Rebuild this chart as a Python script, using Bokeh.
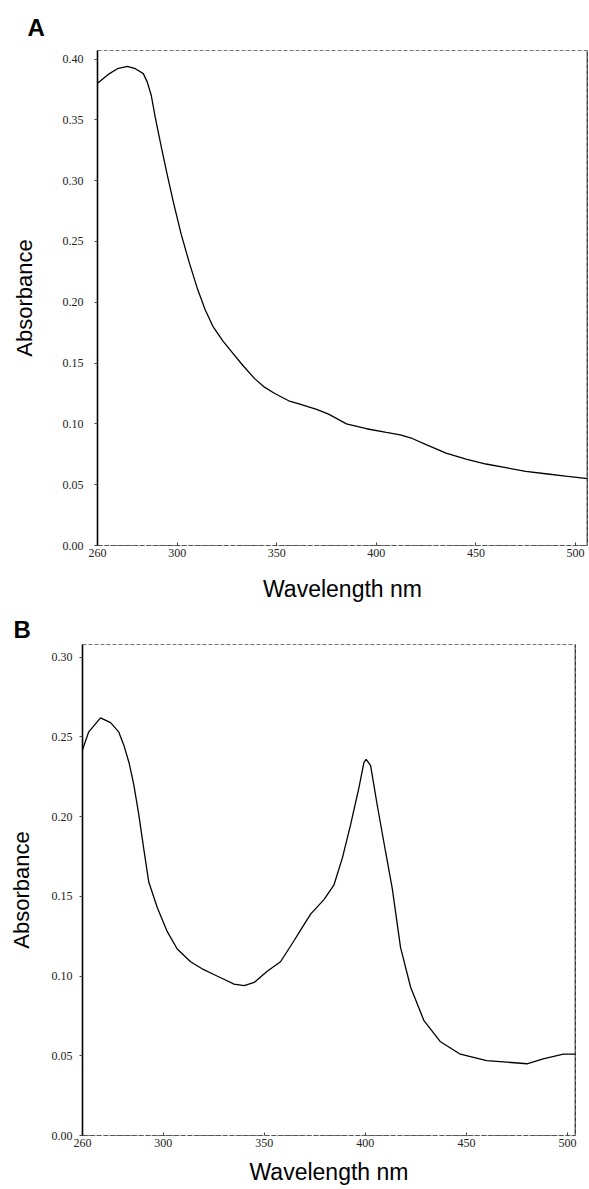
from bokeh.plotting import figure
from bokeh.models import Range1d, FixedTicker, Span, NumeralTickFormatter
from bokeh.embed import file_html
from bokeh.resources import INLINE

# ---- data ----
a_wavelength = [260, 266, 270, 275, 279, 283, 285, 287, 289, 292, 295, 298, 302, 306,
                310, 314, 318, 323, 328, 333, 339, 344, 349, 356, 362, 370, 376, 385,
                395, 405, 412, 418, 425, 435, 445, 455, 465, 475, 485, 495, 506]
a_absorbance = [0.380, 0.388, 0.392, 0.394, 0.392, 0.388, 0.381, 0.370, 0.352, 0.328,
                0.305, 0.283, 0.256, 0.233, 0.212, 0.194, 0.180, 0.168, 0.158, 0.148,
                0.137, 0.130, 0.125, 0.119, 0.116, 0.112, 0.108, 0.100, 0.096, 0.093,
                0.091, 0.088, 0.083, 0.076, 0.071, 0.067, 0.064, 0.061, 0.059, 0.057,
                0.055]

b_wavelength = [260, 263, 265.6, 268.9, 273.9, 278, 280.4, 283, 285.4, 287.9, 290.3,
                292.8, 297, 301.9, 306.9, 313.5, 320, 325, 330, 335, 340, 345, 351.4,
                358, 364.6, 368, 373, 379.5, 384.4, 388.6, 392.7, 396.8, 399.3, 400.4,
                402.6, 405.9, 410, 413.3, 417.4, 422.4, 429, 437, 447, 460, 470, 480,
                488, 498, 504]
b_absorbance = [0.242, 0.253, 0.257, 0.262, 0.259, 0.253, 0.245, 0.234, 0.220, 0.201,
                0.180, 0.159, 0.143, 0.128, 0.117, 0.109, 0.104, 0.101, 0.098, 0.095,
                0.094, 0.096, 0.103, 0.109, 0.122, 0.129, 0.139, 0.148, 0.157, 0.174,
                0.195, 0.218, 0.234, 0.236, 0.232, 0.207, 0.178, 0.155, 0.118, 0.093,
                0.072, 0.059, 0.051, 0.047, 0.046, 0.045, 0.048, 0.051, 0.051]

x_ticks = [260, 300, 350, 400, 450, 500]
a_y_ticks = [0.00, 0.05, 0.10, 0.15, 0.20, 0.25, 0.30, 0.35, 0.40]
b_y_ticks = [0.00, 0.05, 0.10, 0.15, 0.20, 0.25, 0.30]

TICK_FONT = "Liberation Serif"
TITLE_FONT = "Liberation Sans"


def make_panel(xs, ys, x_end, y_end, y_ticks, width, height, bl, br, bt, bb,
               letter, letter_offset, letter_standoff,
               ylab_standoff, xlab_standoff, yticks_standoff):
    p = figure(width=width, height=height, output_backend="svg", toolbar_location=None,
               x_range=Range1d(260, x_end), y_range=Range1d(0, y_end),
               min_border_left=bl, min_border_right=br, min_border_top=bt,
               min_border_bottom=bb, title=letter)
    p.background_fill_color = "white"
    p.border_fill_color = "white"
    p.grid.visible = False
    p.outline_line_color = "#777777"
    p.outline_line_dash = "4 2"
    p.outline_line_width = 1

    # panel letter as the figure title
    p.title.text_font = TITLE_FONT
    p.title.text_font_style = "bold"
    p.title.text_font_size = "24px"
    p.title.text_color = "black"
    p.title.align = "left"
    p.title.offset = letter_offset
    p.title.standoff = letter_standoff

    p.line(xs, ys, line_color="black", line_width=1.3)

    xa = p.xaxis[0]
    xa.ticker = FixedTicker(ticks=x_ticks)
    xa.axis_line_color = "#555555"
    xa.axis_line_dash = "5 2"
    xa.axis_line_width = 1
    xa.major_tick_in = 3
    xa.major_tick_out = 0
    xa.minor_tick_line_color = None
    xa.major_tick_line_color = "#444444"
    xa.major_label_text_font = TICK_FONT
    xa.major_label_text_font_size = "12px"
    xa.major_label_text_color = "#222222"
    xa.major_label_standoff = 3
    xa.axis_label = "Wavelength nm"
    xa.axis_label_text_font = TITLE_FONT
    xa.axis_label_text_font_style = "normal"
    xa.axis_label_text_font_size = "23px"
    xa.axis_label_text_color = "black"
    xa.axis_label_standoff = xlab_standoff

    ya = p.yaxis[0]
    ya.ticker = FixedTicker(ticks=y_ticks)
    ya.formatter = NumeralTickFormatter(format="0.00")
    ya.axis_line_color = "black"
    ya.axis_line_width = 1.6
    ya.major_tick_in = 0
    ya.major_tick_out = 3
    ya.major_tick_line_color = "#444444"
    ya.minor_tick_line_color = None
    ya.major_label_text_font = TICK_FONT
    ya.major_label_text_font_size = "12px"
    ya.major_label_text_color = "#222222"
    ya.major_label_standoff = yticks_standoff
    ya.axis_label = "Absorbance"
    ya.axis_label_text_font = TITLE_FONT
    ya.axis_label_text_font_style = "normal"
    ya.axis_label_text_font_size = "22px"
    ya.axis_label_text_color = "black"
    ya.axis_label_standoff = ylab_standoff

    p.add_layout(Span(location=x_end, dimension="height", line_color="black",
                      line_width=1.6))
    return p


pA = make_panel(a_wavelength, a_absorbance, 506, 0.407, a_y_ticks,
                width=589, height=612, bl=97, br=2, bt=50, bb=67,
                letter="A", letter_offset=-70, letter_standoff=20,
                ylab_standoff=23, xlab_standoff=16, yticks_standoff=11)

pB = make_panel(b_wavelength, b_absorbance, 504, 0.308, b_y_ticks,
                width=589, height=577, bl=82, br=14, bt=31, bb=54,
                letter="B", letter_offset=-69, letter_standoff=3,
                ylab_standoff=15, xlab_standoff=9, yticks_standoff=7)

open("out.html", "w").write(file_html([pA, pB], INLINE))
